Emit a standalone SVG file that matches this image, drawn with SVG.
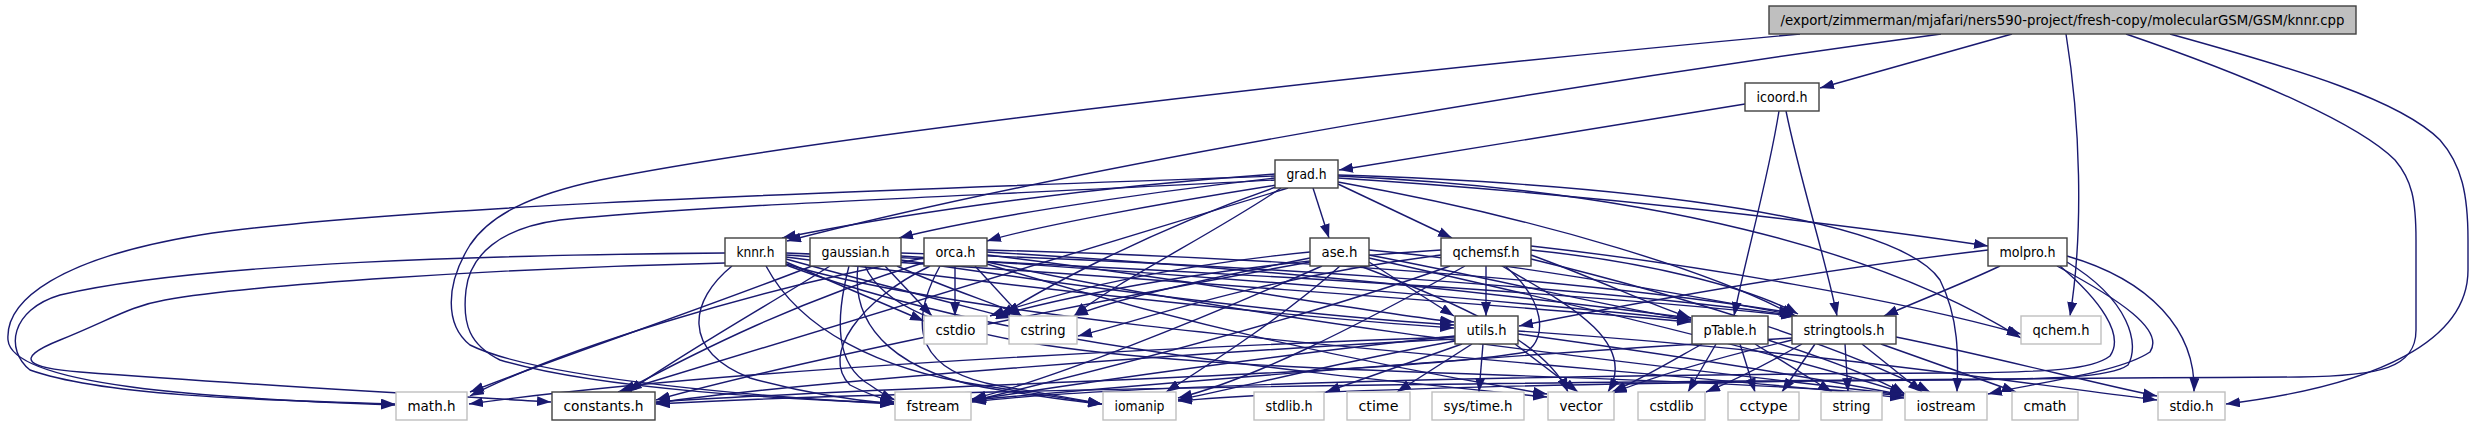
<svg xmlns="http://www.w3.org/2000/svg" width="2473" height="427" viewBox="0 0 2473 427">
<style>
.e path{fill:none;stroke:#191970;stroke-width:1.4;marker-end:url(#a)}
.d rect{fill:#ffffff;stroke:#404040;stroke-width:1.4}
.u rect{fill:#ffffff;stroke:#bfbfbf;stroke-width:1.4}
.r rect{fill:#bfbfbf;stroke:#404040;stroke-width:1.4}
text{font-family:"DejaVu Sans Condensed","DejaVu Sans",sans-serif;font-stretch:condensed;font-size:14px;fill:#000;text-anchor:middle}
</style>
<defs>
<marker id="a" viewBox="0 0 14 10" refX="14" refY="5" markerWidth="14" markerHeight="10" markerUnits="userSpaceOnUse" orient="auto"><path d="M0,0L14,5L0,10z" fill="#191970"/></marker>
</defs>
<rect width="2473" height="427" fill="#ffffff"/>
<g id="edges" class="e">
<path d="M2012,34 L1820,88"/>
<path d="M1941,34 C1600,80 1100,160 787,241"/>
<path d="M2066,34 C2080,120 2084,230 2070,316"/>
<path d="M2170,34 C2300,70 2400,100 2440,140 C2462,165 2468,195 2468,240 L2468,270 C2468,340 2380,385 2226,404"/>
<path d="M2126,34 C2260,80 2360,125 2395,160 C2412,180 2416,200 2416,240 L2416,330 C2416,368 2380,376 2300,377 C1800,380 1000,385 656,404"/>
<path d="M1800,34 C1300,80 800,140 600,180 C530,195 490,215 470,245 C445,285 445,325 470,345 C540,380 780,398 894,404"/>
<path d="M1745,104 L1339,170"/>
<path d="M1779,111 C1768,180 1745,260 1734,316"/>
<path d="M1786,111 C1800,180 1826,260 1837,316"/>
<path d="M1275,174 C1050,190 870,220 782,238"/>
<path d="M1275,178 C1120,195 960,222 899,238"/>
<path d="M1277,185 C1150,205 1030,228 987,241"/>
<path d="M1313,188 L1329,238"/>
<path d="M1338,184 L1452,238"/>
<path d="M1338,178 C1600,195 1850,225 1988,246"/>
<path d="M1338,182 C1550,220 1720,275 1795,316"/>
<path d="M1338,176 C1650,190 1880,250 2021,338"/>
<path d="M1338,175 C1650,185 1900,220 1940,280 C1960,320 1958,360 1957,392"/>
<path d="M1275,176 C900,190 400,205 200,235 C60,258 5,300 8,340 C12,385 200,398 395,405"/>
<path d="M1275,180 C1000,195 700,205 560,220 C500,228 470,255 466,290 C462,325 470,345 500,360 C600,390 800,400 894,403"/>
<path d="M1288,188 L618,392"/>
<path d="M1281,188 C1220,230 1110,285 1074,316"/>
<path d="M1279,186 C1150,230 1040,290 1000,316"/>
<path d="M725,253 C500,255 200,262 60,295 C10,310 5,350 30,370 C100,395 250,400 395,404"/>
<path d="M725,263 C500,268 250,285 165,300 C130,306 110,320 60,340 C10,360 30,368 80,372 C250,385 450,396 551,402"/>
<path d="M732,266 C690,300 680,350 750,378 C800,392 850,400 894,404"/>
<path d="M766,266 C800,330 880,370 980,385 C1040,394 1075,400 1102,404"/>
<path d="M786,262 L924,321"/>
<path d="M786,259 C880,285 960,305 1010,318"/>
<path d="M786,257 C1000,285 1300,318 1454,328"/>
<path d="M786,255 C1100,275 1500,305 1691,322"/>
<path d="M786,253 C1100,265 1550,290 1795,316"/>
<path d="M786,264 C1000,330 1600,365 1904,398"/>
<path d="M786,265 C1000,345 1300,372 1547,397"/>
<path d="M812,266 C700,310 550,360 470,392"/>
<path d="M830,266 C760,310 680,355 628,392"/>
<path d="M885,266 L932,316"/>
<path d="M897,266 C950,290 1000,305 1022,316"/>
<path d="M849,266 C835,320 835,365 870,385 C880,392 888,397 895,400"/>
<path d="M858,266 C850,330 900,375 1000,390 C1050,398 1080,402 1102,404"/>
<path d="M901,260 C1100,290 1300,315 1454,325"/>
<path d="M901,256 C1200,275 1500,300 1691,320"/>
<path d="M901,253 C1200,262 1600,288 1797,316"/>
<path d="M865,266 C900,345 1100,362 1500,375 C1700,382 1850,390 1904,396"/>
<path d="M955,266 L955,316"/>
<path d="M975,266 L1021,316"/>
<path d="M926,262 C800,300 700,350 622,392"/>
<path d="M924,258 C750,290 560,350 470,396"/>
<path d="M930,266 C860,300 820,355 850,385 C865,393 880,398 894,402"/>
<path d="M940,266 C905,330 920,372 1000,386 C1050,394 1080,400 1102,404"/>
<path d="M987,255 C1200,280 1350,310 1454,322"/>
<path d="M987,252 C1300,270 1550,300 1691,318"/>
<path d="M987,250 C1300,258 1600,282 1793,313"/>
<path d="M987,262 C1300,330 1700,370 1904,395"/>
<path d="M987,264 C1200,330 1400,370 1547,394"/>
<path d="M1310,252 C1150,268 1050,295 990,316"/>
<path d="M1310,258 C1200,280 1110,300 1074,316"/>
<path d="M1369,262 L1454,316"/>
<path d="M1369,255 C1500,280 1600,305 1691,320"/>
<path d="M1369,250 C1500,262 1650,288 1794,315"/>
<path d="M1360,266 C1450,300 1545,340 1568,392"/>
<path d="M1310,262 C1100,300 800,360 656,400"/>
<path d="M1322,266 C1200,320 1050,380 972,399"/>
<path d="M1340,266 C1280,320 1200,370 1166,392"/>
<path d="M1369,258 C1600,310 1800,360 1904,393"/>
<path d="M1486,266 L1486,316"/>
<path d="M1502,266 C1560,300 1640,340 1608,392"/>
<path d="M1441,250 C1250,262 1100,288 996,316"/>
<path d="M1441,255 C1250,280 1150,318 1078,336"/>
<path d="M1531,255 C1600,280 1650,305 1691,318"/>
<path d="M1531,250 C1650,262 1750,288 1798,314"/>
<path d="M1531,246 C1700,265 1900,300 2021,334"/>
<path d="M1531,259 C1700,300 1850,350 1930,392"/>
<path d="M1505,266 C1545,300 1548,338 1526,352 C1400,375 900,385 656,402"/>
<path d="M1450,266 C1300,320 1100,370 972,401"/>
<path d="M1465,266 C1350,330 1250,380 1178,398"/>
<path d="M1988,250 C1800,272 1600,310 1519,326"/>
<path d="M2000,266 C1960,285 1920,300 1884,316"/>
<path d="M2067,256 C2150,280 2196,330 2194,392"/>
<path d="M2057,266 C2120,300 2165,330 2150,352 C2120,372 2050,380 1988,394"/>
<path d="M2060,266 C2100,300 2125,335 2110,356 C2092,370 2050,372 1950,373 C1500,375 1100,386 972,402"/>
<path d="M2067,262 C2130,300 2140,345 2128,365 C2110,378 2050,379 1950,380 C1600,382 1300,390 1178,401"/>
<path d="M1462,344 L1326,392"/>
<path d="M1472,344 L1397,392"/>
<path d="M1483,344 L1479,392"/>
<path d="M1515,344 L1578,392"/>
<path d="M1518,334 C1650,352 1800,375 1904,395"/>
<path d="M1518,331 C1800,350 2000,380 2157,400"/>
<path d="M1455,336 C1300,352 1100,380 972,400"/>
<path d="M1455,341 C1350,360 1250,385 1178,400"/>
<path d="M1455,339 C1200,352 800,382 656,403"/>
<path d="M1455,337 C1100,350 700,372 469,404"/>
<path d="M1702,344 C1670,362 1640,380 1612,392"/>
<path d="M1716,344 L1688,392"/>
<path d="M1740,344 L1755,392"/>
<path d="M1755,344 L1832,392"/>
<path d="M1768,340 C1830,360 1880,380 1905,394"/>
<path d="M1792,340 C1700,362 1645,380 1613,393"/>
<path d="M1802,344 C1765,365 1735,380 1706,392"/>
<path d="M1815,344 L1782,392"/>
<path d="M1845,344 L1848,392"/>
<path d="M1862,344 L1922,392"/>
<path d="M1881,344 L2016,392"/>
<path d="M1896,337 C2000,358 2100,385 2157,396"/>
<path d="M1792,338 C1500,355 1200,380 972,400"/>
</g>
<g id="node-root" class="r"><rect x="1769" y="6" width="587" height="28"/><text x="2062.5" y="25" textLength="564" lengthAdjust="spacingAndGlyphs">/export/zimmerman/mjafari/ners590-project/fresh-copy/molecularGSM/GSM/knnr.cpp</text></g>
<g id="node-icoord" class="d"><rect x="1745" y="83" width="74" height="28"/><text x="1782" y="102" textLength="51" lengthAdjust="spacingAndGlyphs">icoord.h</text></g>
<g id="node-grad" class="d"><rect x="1275" y="160" width="63" height="28"/><text x="1306.5" y="179" textLength="40" lengthAdjust="spacingAndGlyphs">grad.h</text></g>
<g id="node-knnr" class="d"><rect x="725" y="238" width="61" height="28"/><text x="755.5" y="257" textLength="38" lengthAdjust="spacingAndGlyphs">knnr.h</text></g>
<g id="node-gaussian" class="d"><rect x="810" y="238" width="91" height="28"/><text x="855.5" y="257" textLength="68" lengthAdjust="spacingAndGlyphs">gaussian.h</text></g>
<g id="node-orca" class="d"><rect x="924" y="238" width="63" height="28"/><text x="955.5" y="257" textLength="40" lengthAdjust="spacingAndGlyphs">orca.h</text></g>
<g id="node-ase" class="d"><rect x="1310" y="238" width="59" height="28"/><text x="1339.5" y="257" textLength="36" lengthAdjust="spacingAndGlyphs">ase.h</text></g>
<g id="node-qchemsf" class="d"><rect x="1441" y="238" width="90" height="28"/><text x="1486" y="257" textLength="67" lengthAdjust="spacingAndGlyphs">qchemsf.h</text></g>
<g id="node-molpro" class="d"><rect x="1988" y="238" width="79" height="28"/><text x="2027.5" y="257" textLength="56" lengthAdjust="spacingAndGlyphs">molpro.h</text></g>
<g id="node-cstdio" class="u"><rect x="924" y="316" width="63" height="28"/><text x="955.5" y="335" textLength="40" lengthAdjust="spacingAndGlyphs">cstdio</text></g>
<g id="node-cstring" class="u"><rect x="1009" y="316" width="68" height="28"/><text x="1043" y="335" textLength="45" lengthAdjust="spacingAndGlyphs">cstring</text></g>
<g id="node-utils" class="d"><rect x="1455" y="316" width="63" height="28"/><text x="1486.5" y="335" textLength="40" lengthAdjust="spacingAndGlyphs">utils.h</text></g>
<g id="node-ptable" class="d"><rect x="1692" y="316" width="76" height="28"/><text x="1730" y="335" textLength="53" lengthAdjust="spacingAndGlyphs">pTable.h</text></g>
<g id="node-stringtools" class="d"><rect x="1792" y="316" width="104" height="28"/><text x="1844" y="335" textLength="81" lengthAdjust="spacingAndGlyphs">stringtools.h</text></g>
<g id="node-qchem" class="u"><rect x="2021" y="316" width="80" height="28"/><text x="2061" y="335" textLength="57" lengthAdjust="spacingAndGlyphs">qchem.h</text></g>
<g id="node-math" class="u"><rect x="396" y="392" width="71" height="28"/><text x="431.5" y="411" textLength="48" lengthAdjust="spacingAndGlyphs">math.h</text></g>
<g id="node-constants" class="d"><rect x="552" y="392" width="103" height="28"/><text x="603.5" y="411" textLength="80" lengthAdjust="spacingAndGlyphs">constants.h</text></g>
<g id="node-fstream" class="u"><rect x="895" y="392" width="76" height="28"/><text x="933" y="411" textLength="53" lengthAdjust="spacingAndGlyphs">fstream</text></g>
<g id="node-iomanip" class="u"><rect x="1103" y="392" width="73" height="28"/><text x="1139.5" y="411" textLength="50" lengthAdjust="spacingAndGlyphs">iomanip</text></g>
<g id="node-stdlib" class="u"><rect x="1254" y="392" width="70" height="28"/><text x="1289" y="411" textLength="47" lengthAdjust="spacingAndGlyphs">stdlib.h</text></g>
<g id="node-ctime" class="u"><rect x="1347" y="392" width="63" height="28"/><text x="1378.5" y="411" textLength="40" lengthAdjust="spacingAndGlyphs">ctime</text></g>
<g id="node-systime" class="u"><rect x="1432" y="392" width="92" height="28"/><text x="1478" y="411" textLength="69" lengthAdjust="spacingAndGlyphs">sys/time.h</text></g>
<g id="node-vector" class="u"><rect x="1548" y="392" width="66" height="28"/><text x="1581" y="411" textLength="43" lengthAdjust="spacingAndGlyphs">vector</text></g>
<g id="node-cstdlib" class="u"><rect x="1638" y="392" width="67" height="28"/><text x="1671.5" y="411" textLength="44" lengthAdjust="spacingAndGlyphs">cstdlib</text></g>
<g id="node-cctype" class="u"><rect x="1728" y="392" width="71" height="28"/><text x="1763.5" y="411" textLength="48" lengthAdjust="spacingAndGlyphs">cctype</text></g>
<g id="node-string" class="u"><rect x="1821" y="392" width="61" height="28"/><text x="1851.5" y="411" textLength="38" lengthAdjust="spacingAndGlyphs">string</text></g>
<g id="node-iostream" class="u"><rect x="1905" y="392" width="82" height="28"/><text x="1946" y="411" textLength="59" lengthAdjust="spacingAndGlyphs">iostream</text></g>
<g id="node-cmath" class="u"><rect x="2012" y="392" width="66" height="28"/><text x="2045" y="411" textLength="43" lengthAdjust="spacingAndGlyphs">cmath</text></g>
<g id="node-stdio" class="u"><rect x="2158" y="392" width="67" height="28"/><text x="2191.5" y="411" textLength="44" lengthAdjust="spacingAndGlyphs">stdio.h</text></g>
</svg>
